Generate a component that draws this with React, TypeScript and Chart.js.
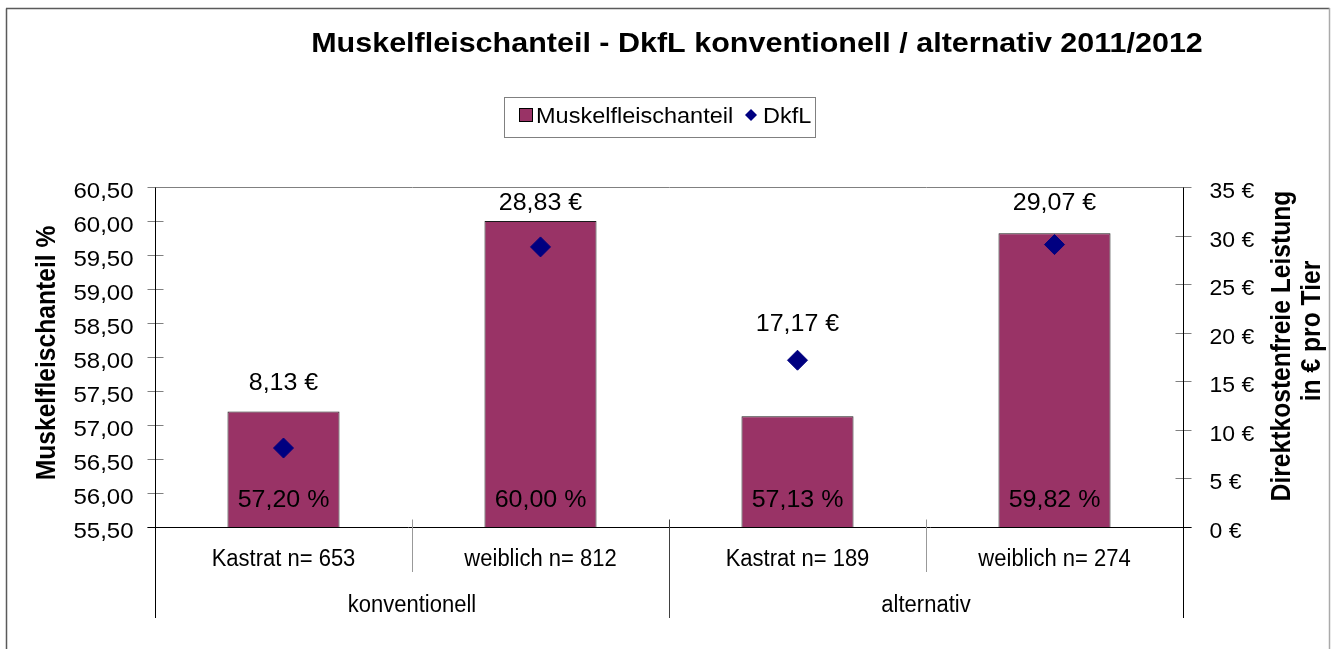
import React, { useEffect, useRef } from 'react';
import { Chart, registerables } from 'chart.js';

Chart.register(...registerables);

// ---- data ----
const categories = ['Kastrat n= 653', 'weiblich n= 812', 'Kastrat n= 189', 'weiblich n= 274'];
const groups = ['konventionell', 'alternativ'];
const groupSizes = [2, 2];
const muskelfleisch = [57.2, 60.0, 57.13, 59.82];
const dkfl = [8.13, 28.83, 17.17, 29.07];
const leftAxis = { min: 55.5, max: 60.5, step: 0.5 };
const rightAxis = { min: 0, max: 35, step: 5 };
const titleText = 'Muskelfleischanteil - DkfL konventionell / alternativ 2011/2012';
const seriesNames = ['Muskelfleischanteil', 'DkfL'];
const leftTitle = 'Muskelfleischanteil %';
const rightTitle = ['Direktkostenfreie Leistung', 'in € pro Tier'];

// ---- style / layout ----
const BAR_COLOR = '#993366';
const POINT_COLOR = '#000080';
const FONT = '"Liberation Sans", Arial, Helvetica, sans-serif';
const dkflLabelLift = [58, 37, 29, 35];

const fmt2 = (v: number) => v.toFixed(2).replace('.', ',');

function drawText(
  ctx: CanvasRenderingContext2D,
  s: string,
  x: number,
  y: number,
  size: number,
  opts: { bold?: boolean; align?: CanvasTextAlign; sq?: number; rot?: boolean } = {}
) {
  ctx.save();
  ctx.translate(x, y);
  if (opts.rot) {
    ctx.rotate(-Math.PI / 2);
    ctx.scale(opts.sq ?? 1, 1);
  } else {
    ctx.scale(1, opts.sq ?? 1);
  }
  ctx.font = `${opts.bold ? 'bold ' : ''}${size}px ${FONT}`;
  ctx.textAlign = opts.align ?? 'left';
  ctx.textBaseline = 'alphabetic';
  ctx.fillStyle = '#000';
  ctx.fillText(s, 0, 0);
  ctx.restore();
}

function line(ctx: CanvasRenderingContext2D, x1: number, y1: number, x2: number, y2: number, color: string, w = 1) {
  ctx.save();
  ctx.strokeStyle = color;
  ctx.lineWidth = w;
  ctx.beginPath();
  ctx.moveTo(x1, y1);
  ctx.lineTo(x2, y2);
  ctx.stroke();
  ctx.restore();
}

const decorPlugin = {
  id: 'decor',
  afterDraw(chart: any) {
    const ctx: CanvasRenderingContext2D = chart.ctx;
    const a = chart.chartArea;
    const xs = chart.scales.x;
    const ys = chart.scales.y;
    const ys2 = chart.scales.y2;
    const L = Math.round(a.left) + 0.5;
    const R = Math.round(a.right) + 0.5;
    const T = Math.round(a.top) + 0.5;
    const B = Math.round(a.bottom) + 0.5;

    // outer frame
    line(ctx, 6.5, 8.5, 6.5, 700, '#5a5a5a', 1.5);
    line(ctx, 6, 8.5, 1329.5, 8.5, '#5a5a5a', 1.5);
    line(ctx, 1329.5, 8, 1329.5, 700, '#aaaaaa', 1.5);

    // plot top border
    line(ctx, L, T, R, T, '#808080', 1);

    // ticks
    ys.ticks.forEach((t: any) => {
      const py = Math.round(ys.getPixelForValue(t.value)) + 0.5;
      line(ctx, L - 8, py, L + 8, py, '#808080', 1);
      drawText(ctx, fmt2(t.value), L - 22, py + 10, 24, { align: 'right', sq: 0.92 });
    });
    ys2.ticks.forEach((t: any) => {
      const py = Math.round(ys2.getPixelForValue(t.value)) + 0.5;
      line(ctx, R - 8, py, R + 8, py, '#808080', 1);
      drawText(ctx, `${Math.round(t.value)} €`, R + 26, py + 10, 23, { align: 'left', sq: 0.92 });
    });

    // axes
    line(ctx, L, T, L, 618, '#000', 1);
    line(ctx, R, T, R, 618, '#000', 1);
    line(ctx, L - 8, B, R + 8, B, '#000', 1);

    // category separators
    const n = categories.length;
    const boundaries = new Set<number>();
    let acc = 0;
    groupSizes.forEach((g) => { acc += g; boundaries.add(acc); });
    for (let i = 1; i < n; i++) {
      const bx = Math.round((xs.getPixelForValue(i - 1) + xs.getPixelForValue(i)) / 2) + 0.5;
      if (boundaries.has(i)) line(ctx, bx, B - 8, bx, 618, '#404040', 1);
      else line(ctx, bx, B - 8, bx, 572, '#999999', 1);
    }

    // category labels
    categories.forEach((c, i) => {
      drawText(ctx, c, xs.getPixelForValue(i), 566, 22, { align: 'center', sq: 1.05 });
    });
    // group labels
    let start = 0;
    groups.forEach((g, gi) => {
      const end = start + groupSizes[gi] - 1;
      const cx = (xs.getPixelForValue(start) + xs.getPixelForValue(end)) / 2;
      drawText(ctx, g, cx, 612, 22, { align: 'center', sq: 1.05 });
      start = end + 1;
    });

    // bar value labels
    muskelfleisch.forEach((v, i) => {
      drawText(ctx, `${fmt2(v)} %`, xs.getPixelForValue(i), ys.getPixelForValue(leftAxis.min) - 20, 25, { align: 'center', sq: 0.95 });
    });
    // dkfl labels
    dkfl.forEach((v, i) => {
      drawText(ctx, `${fmt2(v)} €`, xs.getPixelForValue(i), ys2.getPixelForValue(v) - dkflLabelLift[i], 25, { align: 'center', sq: 0.95 });
    });

    // title
    drawText(ctx, titleText, 757, 52, 30.5, { bold: true, align: 'center', sq: 0.88 });

    // axis titles
    drawText(ctx, leftTitle, 55, 353, 28, { bold: true, align: 'center', sq: 0.88, rot: true });
    drawText(ctx, rightTitle[0], 1290, 346, 28, { bold: true, align: 'center', sq: 0.88, rot: true });
    drawText(ctx, rightTitle[1], 1320, 331, 28, { bold: true, align: 'center', sq: 0.88, rot: true });

    // legend
    ctx.save();
    ctx.strokeStyle = '#808080';
    ctx.lineWidth = 1;
    ctx.strokeRect(504.5, 97.5, 311, 40);
    ctx.fillStyle = BAR_COLOR;
    ctx.fillRect(519, 108, 14, 14);
    ctx.strokeStyle = '#000';
    ctx.strokeRect(519.5, 108.5, 13, 13);
    ctx.fillStyle = POINT_COLOR;
    ctx.beginPath();
    ctx.moveTo(751, 109);
    ctx.lineTo(757, 115);
    ctx.lineTo(751, 121);
    ctx.lineTo(745, 115);
    ctx.closePath();
    ctx.fill();
    ctx.restore();
    drawText(ctx, seriesNames[0], 536, 123, 23.5, { align: 'left', sq: 0.9 });
    drawText(ctx, seriesNames[1], 763, 123, 23.5, { align: 'left', sq: 0.9 });
  },
};

export default function App() {
  const ref = useRef<HTMLCanvasElement | null>(null);
  useEffect(() => {
    if (!ref.current) return;
    const chart = new Chart(ref.current, {
      type: 'bar',
      data: {
        labels: categories,
        datasets: [
          {
            type: 'line',
            label: seriesNames[1],
            data: dkfl,
            yAxisID: 'y2',
            showLine: false,
            pointStyle: 'rectRot',
            pointRadius: 10,
            pointBorderWidth: 1,
            pointBackgroundColor: POINT_COLOR,
            pointBorderColor: POINT_COLOR,
            borderColor: POINT_COLOR,
            backgroundColor: POINT_COLOR,
            order: 0,
          } as any,
          {
            type: 'bar',
            label: seriesNames[0],
            data: muskelfleisch,
            yAxisID: 'y',
            backgroundColor: BAR_COLOR,
            borderColor: '#1a1a1a',
            borderWidth: 1,
            borderSkipped: false,
            barPercentage: 0.436,
            categoryPercentage: 1,
            order: 1,
          },
        ],
      },
      options: {
        animation: false,
        responsive: false,
        devicePixelRatio: 1,
        layout: { padding: { top: 187, left: 0, right: 0, bottom: 0 } },
        plugins: {
          legend: { display: false },
          title: { display: false },
          tooltip: { enabled: false },
        },
        scales: {
          x: {
            type: 'category',
            offset: true,
            grid: { display: false },
            border: { display: false },
            ticks: { display: false },
            afterFit: (s: any) => { s.height = 122; },
          },
          y: {
            type: 'linear',
            position: 'left',
            min: leftAxis.min,
            max: leftAxis.max,
            ticks: { display: false, stepSize: leftAxis.step },
            grid: { display: false },
            border: { display: false },
            afterFit: (s: any) => { s.width = 155; },
          },
          y2: {
            type: 'linear',
            position: 'right',
            min: rightAxis.min,
            max: rightAxis.max,
            ticks: { display: false, stepSize: rightAxis.step },
            grid: { display: false },
            border: { display: false },
            afterFit: (s: any) => { s.width = 152; },
          },
        },
      },
      plugins: [decorPlugin],
    });
    return () => chart.destroy();
  }, []);

  return (
    <div style={{ position: 'absolute', left: 0, top: 0, width: 1335, height: 649, background: '#fff', overflow: 'hidden' }}>
      <canvas ref={ref} width={1335} height={649} style={{ display: 'block' }} />
    </div>
  );
}
